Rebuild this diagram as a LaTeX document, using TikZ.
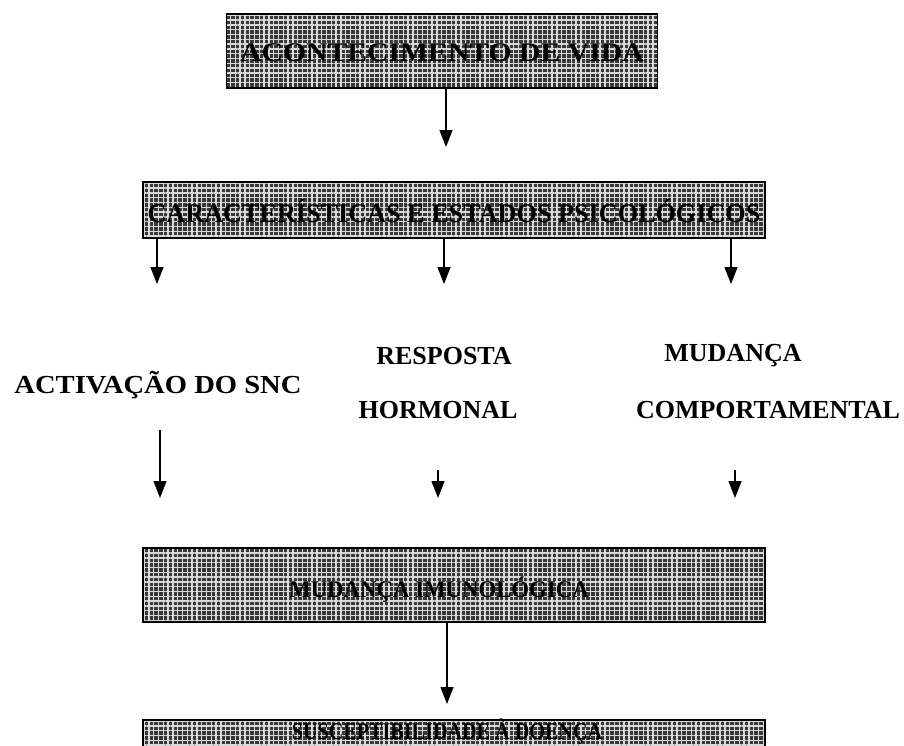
\documentclass[tikz,border=0pt]{standalone}
\usepackage{fontspec}
\setmainfont{Liberation Serif}
\usetikzlibrary{arrows.meta,patterns.meta}

\tikzset{
  hatchbox/.style={
    draw=black, line width=1.8pt,
    preaction={fill=black!78},
    preaction={pattern={Lines[angle=0,distance=4.8pt,line width=1.4pt]}, pattern color=white!85!black},
    pattern={Lines[angle=90,distance=4.8pt,line width=1.4pt]}, pattern color=white!85!black,
    inner sep=0pt
  },
  boxtext/.style={font=\fontsize{27}{30}\selectfont\bfseries, text=black, inner sep=0pt},
  smallboxtext/.style={font=\fontsize{24}{28}\selectfont\bfseries, text=black, inner sep=0pt},
  labeltext/.style={font=\fontsize{26}{30}\selectfont\bfseries, text=black, inner sep=0pt},
  arr/.style={line width=1.4pt, -{Triangle[width=13pt,length=17pt]}}
}
\newcommand{\squeeze}[2]{\scalebox{#1}[1]{#2}}

\begin{document}
\begin{tikzpicture}[x=1pt,y=-1pt]
\useasboundingbox (0,0) rectangle (904,745);

% boxes
\node[hatchbox, minimum width=431pt, minimum height=74pt] (b1) at (442,51) {};
\node[boxtext] (b1t) at (442,53) {\squeeze{1.1}{ACONTECIMENTO DE VIDA}};

\node[hatchbox, minimum width=622pt, minimum height=56pt] (b2) at (454,210) {};
\node[boxtext] (b2t) at (454,211) {\squeeze{0.97}{CARACTERÍSTICAS E ESTADOS PSICOLÓGICOS}};

\node[hatchbox, minimum width=622pt, minimum height=74pt] (b4) at (454,585) {};
\node[smallboxtext] (b4t) at (439,590) {\squeeze{0.95}{MUDANÇA IMUNOLÓGICA}};

\node[hatchbox, minimum width=622pt, minimum height=74pt] (b5) at (454,757) {};
\node[smallboxtext] (b5t) at (447,732) {\squeeze{0.84}{SUSCEPTIBILIDADE À DOENÇA}};

% middle labels
\node[labeltext] (l1) at (158,385) {\squeeze{1.1}{ACTIVAÇÃO DO SNC}};
\node[labeltext] (l2a) at (444,356) {RESPOSTA};
\node[labeltext] (l2b) at (438,410) {HORMONAL};
\node[labeltext] (l3a) at (733,356) {MUDANÇA};
\node[labeltext] (l3b) at (768,410) {COMPORTAMENTAL};

% free arrow ends
\coordinate (t0) at (446,147);
\coordinate (t1) at (157,284);
\coordinate (t2) at (444,284);
\coordinate (t3) at (731,284);
\coordinate (s1) at (160,430);
\coordinate (s2) at (438,470);
\coordinate (s3) at (735,470);
\coordinate (e1) at (160,498);
\coordinate (e2) at (438,498);
\coordinate (e3) at (735,498);
\coordinate (t5) at (447,704);

% connectors
\draw[arr] (b1.south -| t0) -- (t0);
\draw[arr] (b2.south -| t1) -- (t1);
\draw[arr] (b2.south -| t2) -- (t2);
\draw[arr] (b2.south -| t3) -- (t3);
\draw[arr] (s1) -- (e1);
\draw[arr] (s2) -- (e2);
\draw[arr] (s3) -- (e3);
\draw[arr] (b4.south -| t5) -- (t5);
\end{tikzpicture}
\end{document}
